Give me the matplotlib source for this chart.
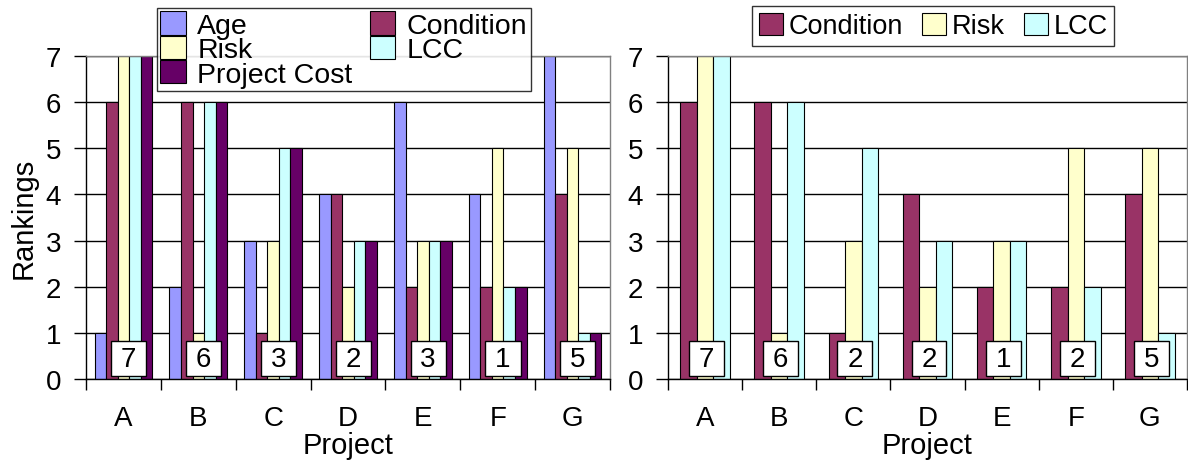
import matplotlib
matplotlib.use("Agg")
import matplotlib.pyplot as plt
from matplotlib.patches import Rectangle
import numpy as np

plt.rcParams['font.family'] = ['Liberation Sans', 'DejaVu Sans']

projects = ["A", "B", "C", "D", "E", "F", "G"]

# Left chart series
age = [1, 2, 3, 4, 6, 4, 7]
condition = [6, 6, 1, 4, 2, 2, 4]
risk = [7, 1, 3, 2, 3, 5, 5]
lcc = [7, 6, 5, 3, 3, 2, 1]
project_cost = [7, 6, 5, 3, 3, 2, 1]
left_labels = ["7", "6", "3", "2", "3", "1", "5"]

# Right chart series
r_condition = [6, 6, 1, 4, 2, 2, 4]
r_risk = [7, 1, 3, 2, 3, 5, 5]
r_lcc = [7, 6, 5, 3, 3, 2, 1]
right_labels = ["7", "6", "2", "2", "1", "2", "5"]

colors = {
    "Age": "#9999FF",
    "Condition": "#993366",
    "Risk": "#FFFFCC",
    "LCC": "#CCFFFF",
    "Project Cost": "#660066",
}

W, H = 1188, 464
fig = plt.figure(figsize=(W / 100, H / 100), dpi=100)

def px_axes(x0, x1, ytop, ybot):
    return fig.add_axes([x0 / W, 1 - ybot / H, (x1 - x0) / W, (ybot - ytop) / H])

ax1 = px_axes(86, 610, 57, 380)
ax2 = px_axes(668, 1187, 57, 380)

def style(ax):
    ax.set_xlim(-0.5, 6.5)
    ax.set_ylim(0, 7)
    ax.set_yticks(range(0, 8))
    ax.yaxis.grid(True, color="#000000", linewidth=1.0)
    ax.set_axisbelow(True)
    ax.set_xticks(range(7))
    ax.set_xticklabels(projects)
    ax.set_xticks(np.arange(-0.5, 7.0, 1.0), minor=True)
    ax.tick_params(axis="x", which="major", length=0, pad=19, labelsize=20)
    ax.tick_params(axis="x", which="minor", length=8, width=1, direction="out")
    ax.tick_params(axis="y", length=9, width=1, direction="out", pad=9, labelsize=20)
    for s in ["top", "right"]:
        ax.spines[s].set_color("#808080")
        ax.spines[s].set_linewidth(1)
    for s in ["left", "bottom"]:
        ax.spines[s].set_color("#000000")
        ax.spines[s].set_linewidth(1)
    ax.set_xlabel("Project", fontsize=21, labelpad=0)

def draw_bars(ax, series, names, total):
    n = len(series)
    w = total / n
    x = np.arange(len(projects))
    for i, (vals, name) in enumerate(zip(series, names)):
        ax.bar(x + (i - (n - 1) / 2) * w, vals, width=w, color=colors[name],
               edgecolor="#000000", linewidth=0.8, label=name, zorder=2)

def draw_boxes(ax, labels, xoff):
    for i, lab in enumerate(labels):
        cx = i + xoff
        ax.add_patch(Rectangle((cx - 0.235, 0.07), 0.47, 0.75, facecolor="white",
                               edgecolor="black", linewidth=1, zorder=4))
        ax.text(cx, 0.43, lab, ha="center", va="center", fontsize=20, zorder=5)

style(ax1)
draw_bars(ax1, [age, condition, risk, lcc, project_cost],
          ["Age", "Condition", "Risk", "LCC", "Project Cost"], 0.77)
draw_boxes(ax1, left_labels, 0.07)
ax1.set_ylabel("Rankings", fontsize=21, labelpad=6)

style(ax2)
draw_bars(ax2, [r_condition, r_risk, r_lcc], ["Condition", "Risk", "LCC"], 0.67)
draw_boxes(ax2, right_labels, 0.02)

# Legends
h1, l1 = ax1.get_legend_handles_labels()
order = [0, 2, 4, 1, 3]
leg1 = fig.legend([h1[i] for i in order], [l1[i] for i in order], ncol=2,
                  loc="upper left", bbox_to_anchor=(157 / W, 1 - 9 / H),
                  fontsize=20.5, frameon=True, fancybox=False, edgecolor="black",
                  handlelength=0.9, handleheight=0.9, handletextpad=0.4,
                  columnspacing=0.6, labelspacing=-0.12, borderpad=0.12,
                  borderaxespad=0)
leg1.get_frame().set_linewidth(1)

h2, l2 = ax2.get_legend_handles_labels()
leg2 = fig.legend(h2, l2, ncol=3, loc="upper left", bbox_to_anchor=(752 / W, 1 - 7 / H),
                  fontsize=19.5, frameon=True, fancybox=False, edgecolor="black",
                  handlelength=0.9, handleheight=0.9, handletextpad=0.2,
                  columnspacing=0.7, borderpad=0.25, borderaxespad=0)
leg2.get_frame().set_linewidth(1)

fig.savefig("out.png", dpi=100)
